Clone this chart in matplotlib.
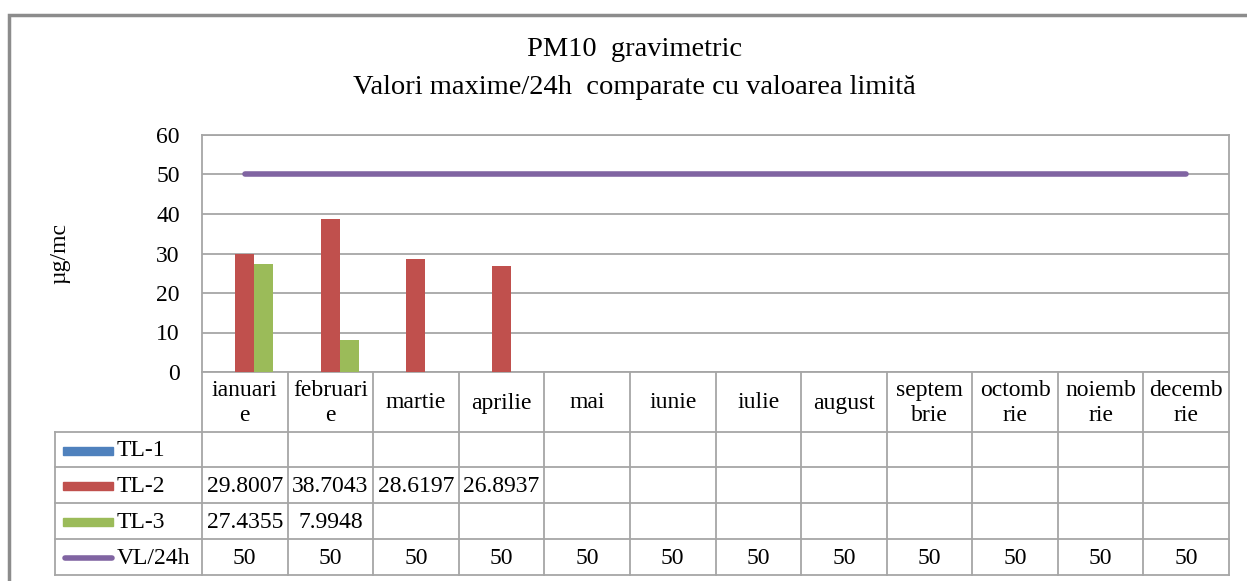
import numpy as np
import matplotlib
matplotlib.use('Agg')
import matplotlib.pyplot as plt
from matplotlib.patches import Rectangle
from matplotlib.lines import Line2D
import matplotlib.transforms as mtransforms

plt.rcParams['font.family'] = ['Liberation Serif', 'DejaVu Serif']

months = ['ianuari\ne', 'februari\ne', 'martie', 'aprilie', 'mai', 'iunie',
          'iulie', 'august', 'septem\nbrie', 'octomb\nrie', 'noiemb\nrie', 'decemb\nrie']
tl1 = [None] * 12
tl2 = [29.8007, 38.7043, 28.6197, 26.8937] + [None] * 8
tl3 = [27.4355, 7.9948] + [None] * 10
vl24 = [50] * 12

series = [('TL-1', tl1, '#4F81BD'), ('TL-2', tl2, '#C0504D'), ('TL-3', tl3, '#9BBB59')]
line_color = '#8064A2'
grid_color = '#A6A6A6'
fs = 17

W, H = 1247, 581
fig = plt.figure(figsize=(W / 100, H / 100), dpi=100)

# pixel helpers for layout
def fx(px):
    return px / W

def fy(py):
    return 1 - py / H

ax_left, ax_right, ax_top, ax_bot = 202, 1229, 135, 372
ax = fig.add_axes([fx(ax_left), fy(ax_bot), fx(ax_right - ax_left), (ax_bot - ax_top) / H])

x = np.arange(len(months))
bw = 0.222
for i, (name, vals, col) in enumerate(series):
    xs = [x[j] + (i - 1) * bw for j, v in enumerate(vals) if v is not None]
    ys = [v for v in vals if v is not None]
    if xs:
        ax.bar(xs, ys, width=bw, color=col, zorder=3)
ax.plot(x, vl24, color=line_color, lw=4, solid_capstyle='round', zorder=4)

ax.set_xlim(-0.5, len(months) - 0.5)
ax.set_ylim(0, 60)
ax.set_yticks(range(0, 61, 10))
ax.set_xticks([])
ax.tick_params(axis='y', length=0, pad=16, labelsize=fs)
ax.yaxis.grid(True, color=grid_color, lw=1.3, zorder=0)
for s in ax.spines.values():
    s.set_color(grid_color)
    s.set_linewidth(1.3)
ax.set_ylabel('µg/mc', fontsize=fs)
ax.yaxis.set_label_coords((70 - ax_left) / (ax_right - ax_left), 0.5)

# data table below the plot
trans = mtransforms.blended_transform_factory(ax.transData, fig.transFigure)
rows_y = [372, 432, 467, 503, 539, 575]
leg_left = 55
lw_t = 1.3

# vertical lines at category boundaries
for b in np.arange(-0.5, len(months), 1.0):
    fig.add_artist(Line2D([b, b], [fy(rows_y[0]), fy(rows_y[-1])], transform=trans,
                          color=grid_color, lw=lw_t))
# horizontal lines
for ry in rows_y[1:]:
    fig.add_artist(Line2D([fx(leg_left), fx(ax_right)], [fy(ry), fy(ry)],
                          transform=fig.transFigure, color=grid_color, lw=lw_t))
fig.add_artist(Line2D([fx(leg_left), fx(leg_left)], [fy(rows_y[1]), fy(rows_y[-1])],
                      transform=fig.transFigure, color=grid_color, lw=lw_t))

# header row
hy = fy((rows_y[0] + rows_y[1]) / 2 + 1)
for j, m in enumerate(months):
    fig.text(x[j], hy, m, transform=trans, ha='center', va='center',
             fontsize=fs, linespacing=1.3)

# value rows
table_rows = [('TL-1', tl1, '#4F81BD', 'bar'), ('TL-2', tl2, '#C0504D', 'bar'),
              ('TL-3', tl3, '#9BBB59', 'bar'), ('VL/24h', vl24, line_color, 'line')]
for r, (name, vals, col, kind) in enumerate(table_rows):
    cy = fy((rows_y[r + 1] + rows_y[r + 2]) / 2 + 1)
    if kind == 'bar':
        fig.add_artist(Rectangle((fx(63), cy - 4 / H), fx(50), 8 / H,
                                 transform=fig.transFigure, color=col))
    else:
        fig.add_artist(Line2D([fx(65), fx(112)], [cy, cy], transform=fig.transFigure,
                              color=col, lw=4, solid_capstyle='round'))
    fig.text(fx(117), cy, name, ha='left', va='center', fontsize=fs)
    for j, v in enumerate(vals):
        if v is not None:
            fig.text(x[j], cy, f'{v:g}', transform=trans, ha='center', va='center',
                     fontsize=fs)

# titles
fig.text(0.509, fy(50), 'PM10  gravimetric', ha='center', va='center', fontsize=20.5)
fig.text(0.509, fy(87), 'Valori maxime/24h  comparate cu valoarea limită',
         ha='center', va='center', fontsize=20.5)

# outer chart frame
fig.add_artist(Rectangle((fx(9), -0.2), 1.2, fy(15) + 0.2, transform=fig.transFigure,
                         fill=False, edgecolor='#8C8C8C', lw=2.5))

fig.savefig('out.png', dpi=100)
